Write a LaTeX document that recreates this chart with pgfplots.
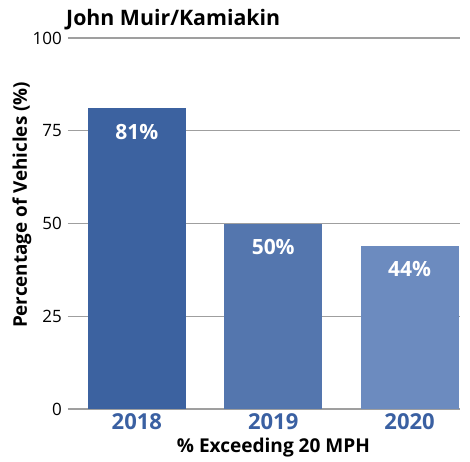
\documentclass[border=0pt]{standalone}
\usepackage{pgfplots}
\pgfplotsset{compat=1.18}
\usepackage{fontspec}
\setmainfont{Open Sans}
\definecolor{barA}{HTML}{3C62A0}
\definecolor{barB}{HTML}{5476AE}
\definecolor{barC}{HTML}{6C8BBF}
\definecolor{tickblue}{HTML}{3A60A2}
\begin{document}
\begin{tikzpicture}
\path[use as bounding box] (-68pt,-52pt) rectangle (402pt,409pt);
\begin{axis}[
  scale only axis,
  width=392pt, height=371pt,
  xmin=-0.505, xmax=2.37,
  ymin=0, ymax=100,
  ytick={0,25,50,75,100},
  xtick={0,1,2},
  xticklabels={2018,2019,2020},
  ymajorgrids,
  grid style={draw=gray!75, line width=1.3pt},
  axis line style={draw=none},
  major tick length=0pt,
  tick style={draw=none},
  yticklabel style={font=\fontsize{17}{20}\selectfont, inner sep=0pt, xshift=-6pt},
  xticklabel style={font=\fontsize{22}{26}\selectfont\bfseries, text=tickblue, inner sep=0pt, yshift=-4pt},
  /pgf/number format/assume math mode=true,
  ybar, bar width=98pt, bar shift=0pt,
  nodes near coords={\pgfmathprintnumber{\pgfplotspointmeta}\%},
  every node near coord/.append style={font=\fontsize{21}{25}\selectfont\bfseries, text=white, anchor=north, yshift=-12pt},
  xlabel={\resizebox{193pt}{!}{\bfseries\% Exceeding 20 MPH}},
  xlabel style={at={(axis description cs:0.524,0)}, anchor=center, yshift=-39pt, inner sep=0pt},
  ylabel={\resizebox{246pt}{!}{\bfseries Percentage of Vehicles (\%)}},
  ylabel style={at={(axis description cs:0,0.55)}, anchor=center, yshift=46pt, inner sep=0pt},
]
\addplot[fill=barA, draw=none] coordinates {(0,81)};
\addplot[fill=barB, draw=none] coordinates {(1,50)};
\addplot[fill=barC, draw=none] coordinates {(2,44)};
\end{axis}
\node[anchor=base west, inner sep=0pt] at (-2pt,383pt) {\resizebox{214pt}{!}{\bfseries John Muir/Kamiakin}};
\end{tikzpicture}
\end{document}
